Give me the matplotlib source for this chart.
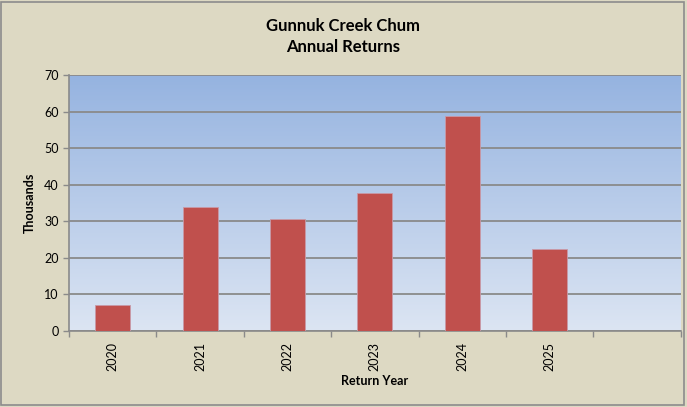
import matplotlib
matplotlib.use("Agg")
import matplotlib.pyplot as plt
import numpy as np
from matplotlib.colors import LinearSegmentedColormap

years = ["2020", "2021", "2022", "2023", "2024", "2025", ""]
returns = [7.1, 33.9, 30.6, 37.8, 58.8, 22.4, None]

plt.rcParams['font.family'] = ['Lato', 'DejaVu Sans']

fig = plt.figure(figsize=(6.87, 4.07), dpi=100, facecolor="#DDD9C3")
fig.patches.append(plt.Rectangle((0.002, 0.004), 0.994, 0.992, transform=fig.transFigure,
                                 fill=False, edgecolor="#8C8C8C", linewidth=1.2))
ax = fig.add_axes([0.1004, 0.1867, 0.8906, 0.629])

# gradient background
cmap = LinearSegmentedColormap.from_list("g", ["#DCE5F3", "#95B3E0"])
grad = np.linspace(0, 1, 256).reshape(-1, 1)
ax.imshow(grad, aspect="auto", cmap=cmap, origin="lower",
          extent=(0, 1, 0, 1), transform=ax.transAxes, zorder=0)

n = len(years)
x = np.arange(n)
vals = [v if v is not None else 0 for v in returns]
ax.bar(x, vals, width=0.4, color="#C0504D", edgecolor="#C89AA8", linewidth=0.6, zorder=3)

ax.set_xlim(-0.5, n - 0.5)
ax.set_ylim(0, 70)
ax.set_yticks(np.arange(0, 71, 10))
ax.yaxis.grid(True, color="#8A8A8A", linewidth=1.3, zorder=1)
ax.set_axisbelow(False)
for gl in ax.get_ygridlines():
    gl.set_zorder(1)

ax.set_xticks(x)
ax.set_xticklabels(years, rotation=90, fontsize=9)
ax.set_xticks(np.arange(-0.5, n, 1), minor=True)
ax.tick_params(axis='x', which='major', length=0, pad=8)
ax.tick_params(axis='x', which='minor', length=4, color="#8A8A8A", width=1)
ax.tick_params(axis='y', length=4, color="#8A8A8A", width=1, labelsize=9)

for s in ["top", "right"]:
    ax.spines[s].set_visible(False)
ax.spines["left"].set_color("#8A8A8A")
ax.spines["bottom"].set_color("#8A8A8A")
ax.spines["left"].set_linewidth(1.2)
ax.spines["bottom"].set_linewidth(1.2)

ax.set_ylabel("Thousands", fontsize=9, fontweight="bold", labelpad=6)
ax.set_xlabel("Return Year", fontsize=9, fontweight="bold", labelpad=3)
fig.text(0.5, 0.937, "Gunnuk Creek Chum", ha="center", va="center", fontsize=12, fontweight="bold")
fig.text(0.5, 0.884, "Annual Returns", ha="center", va="center", fontsize=12, fontweight="bold")

fig.savefig("out.png", dpi=100, facecolor=fig.get_facecolor())
